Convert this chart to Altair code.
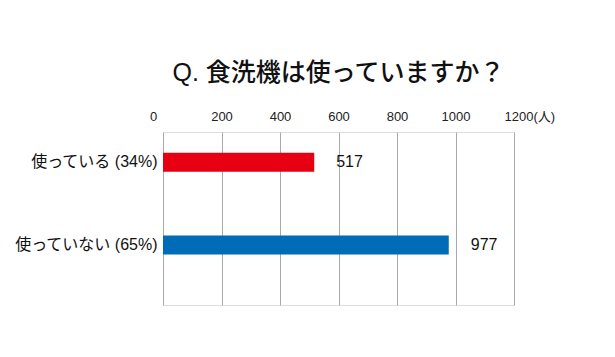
import altair as alt
import pandas as pd

categories = ["使っている (34%)", "使っていない (65%)"]
counts = [517, 977]
colors = ["#e60012", "#006bb6"]
x_ticks = [0, 200, 400, 600, 800, 1000, 1200]
title_text = "Q. 食洗機は使っていますか？"

df = pd.DataFrame({"cat": categories, "n": counts, "color": colors})

FONT = "Liberation Sans, Noto Sans CJK JP"

y_enc = alt.Y(
    "cat:N",
    sort=categories,
    title=None,
    scale=alt.Scale(paddingInner=0.77, paddingOuter=0.43, align=0.29),
    axis=alt.Axis(domain=False, ticks=False, labelPadding=6, labelFontSize=16,
                  labelColor="#111111", labelFont=FONT, grid=False),
)

x_enc = alt.X(
    "n:Q",
    title=None,
    scale=alt.Scale(domain=[0, 1200], nice=False),
    axis=alt.Axis(
        orient="top",
        values=x_ticks,
        format="d",
        domain=False,
        ticks=False,
        grid=True,
        gridColor="#aaaaaa",
        gridWidth=1,
        labelFont=FONT,
        labelFontSize=13,
        labelColor="#222222",
        labelPadding=9,
        labelExpr="datum.value == 1200 ? '1200(人)' : datum.label",
        labelAlign={"condition": {"test": "datum.value == 1200", "value": "left"},
                    "value": "center"},
        labelOffset={"condition": {"test": "datum.value == 0 || datum.value == 1200",
                                   "value": -10}, "value": 0},
    ),
)

bars = alt.Chart(df).mark_bar().encode(
    x=x_enc,
    y=y_enc,
    color=alt.Color("color:N", scale=None),
)

labels = alt.Chart(df).mark_text(
    align="left", baseline="middle", dx=22, fontSize=16, font=FONT, color="#111111"
).encode(
    x="n:Q",
    y=alt.Y("cat:N", sort=categories),
    text="n:Q",
)

chart = (bars + labels).properties(
    width=351,
    height=173,
    title=alt.TitleParams(title_text, font=FONT, fontSize=25, fontWeight=500,
                          color="#111111", anchor="middle", offset=24),
    autosize=alt.AutoSizeParams(type="none"),
    padding={"left": 163, "top": 132, "right": 101, "bottom": 52},
).configure_view(stroke=None).configure(background="white")

chart.save("out.html", embed_options={"renderer": "svg", "actions": False})
